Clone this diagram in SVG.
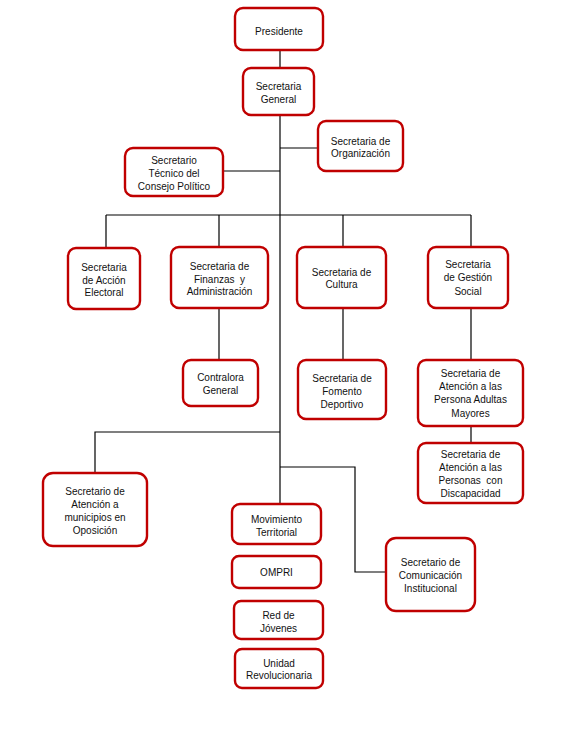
<svg xmlns="http://www.w3.org/2000/svg" width="574" height="756" viewBox="0 0 574 756">
<style>
.bx{fill:#fff;stroke:#C00000;stroke-width:2.4}
.t{font-family:"Liberation Sans",Arial,sans-serif;font-size:10px;fill:#111;text-anchor:middle}
.ln{fill:none;stroke:#000;stroke-width:1.2}
</style>
<rect width="574" height="756" fill="#fff"/>
<g id="connectors">
<path class="ln" d="M280,50V68"/>
<path class="ln" d="M280,115V504"/>
<path class="ln" d="M280,148H318"/>
<path class="ln" d="M223,171H280"/>
<path class="ln" d="M106,215H471"/>
<path class="ln" d="M106,215V248M219,215V247M343,215V247M471,215V247"/>
<path class="ln" d="M219,308V360"/>
<path class="ln" d="M343,308V360"/>
<path class="ln" d="M471,308V360"/>
<path class="ln" d="M471,426V443"/>
<path class="ln" d="M95,473V432H280"/>
<path class="ln" d="M280,467H355V572H386"/>
</g>
<g id="presidente"><rect class="bx" x="235" y="8" width="88" height="42" rx="8"/><text class="t" x="279" y="34.5">Presidente</text></g>
<g id="sec-general"><rect class="bx" x="243" y="68" width="71" height="47" rx="8"/><text class="t" x="278.5" y="89.5">Secretaria</text><text class="t" x="278.5" y="102.5">General</text></g>
<g id="sec-organizacion"><rect class="bx" x="318" y="121" width="85" height="50" rx="8"/><text class="t" x="360.5" y="144.5">Secretaria de</text><text class="t" x="360.5" y="157">Organización</text></g>
<g id="sec-tecnico"><rect class="bx" x="125" y="148" width="98" height="48" rx="8"/><text class="t" x="174" y="163.5">Secretario</text><text class="t" x="174" y="176.5">Técnico del</text><text class="t" x="174" y="189.5">Consejo Político</text></g>
<g id="sec-accion"><rect class="bx" x="68" y="248" width="72" height="61" rx="8"/><text class="t" x="104" y="270.5">Secretaria</text><text class="t" x="104" y="283.5">de Acción</text><text class="t" x="104" y="296">Electoral</text></g>
<g id="sec-finanzas"><rect class="bx" x="171" y="247" width="97" height="61" rx="8"/><text class="t" x="219.5" y="269.5">Secretaria de</text><text class="t" x="219.5" y="282.5" xml:space="preserve">Finanzas  y</text><text class="t" x="219.5" y="295">Administración</text></g>
<g id="sec-cultura"><rect class="bx" x="297" y="247" width="89" height="61" rx="8"/><text class="t" x="341.5" y="275.5">Secretaria de</text><text class="t" x="341.5" y="288">Cultura</text></g>
<g id="sec-gestion"><rect class="bx" x="428" y="247" width="80" height="61" rx="8"/><text class="t" x="468" y="267.5">Secretaria</text><text class="t" x="468" y="281">de Gestión</text><text class="t" x="468" y="294.5">Social</text></g>
<g id="contralora"><rect class="bx" x="183" y="360" width="75" height="46" rx="8"/><text class="t" x="220.5" y="380.5">Contralora</text><text class="t" x="220.5" y="393.5">General</text></g>
<g id="sec-fomento"><rect class="bx" x="298" y="360" width="88" height="59" rx="8"/><text class="t" x="342" y="381.5">Secretaria de</text><text class="t" x="342" y="394.5">Fomento</text><text class="t" x="342" y="407.5">Deportivo</text></g>
<g id="sec-adultas"><rect class="bx" x="418" y="360" width="105" height="66" rx="8"/><text class="t" x="470.5" y="376.5">Secretaria de</text><text class="t" x="470.5" y="390">Atención a las</text><text class="t" x="470.5" y="403">Persona Adultas</text><text class="t" x="470.5" y="416.5">Mayores</text></g>
<g id="sec-discapacidad"><rect class="bx" x="418" y="443" width="105" height="60" rx="8"/><text class="t" x="470.5" y="457.5">Secretaria de</text><text class="t" x="470.5" y="470.5">Atención a las</text><text class="t" x="470.5" y="483.5" xml:space="preserve">Personas  con</text><text class="t" x="470.5" y="496.5">Discapacidad</text></g>
<g id="sec-oposicion"><rect class="bx" x="43" y="473" width="104" height="73" rx="10"/><text class="t" x="95" y="494.5">Secretario de</text><text class="t" x="95" y="507.5">Atención a</text><text class="t" x="95" y="521">municipios en</text><text class="t" x="95" y="533.5">Oposición</text></g>
<g id="movimiento"><rect class="bx" x="232" y="504" width="89" height="40" rx="8"/><text class="t" x="276.5" y="522.5">Movimiento</text><text class="t" x="276.5" y="535.5">Territorial</text></g>
<g id="ompri"><rect class="bx" x="232" y="556" width="89" height="32" rx="7"/><text class="t" x="276.5" y="575.5">OMPRI</text></g>
<g id="red-jovenes"><rect class="bx" x="234" y="601" width="89" height="38" rx="7"/><text class="t" x="278.5" y="618.5">Red de</text><text class="t" x="278.5" y="631.5">Jóvenes</text></g>
<g id="unidad"><rect class="bx" x="235" y="649" width="88" height="39" rx="7"/><text class="t" x="279" y="666.5">Unidad</text><text class="t" x="279" y="678.5">Revolucionaria</text></g>
<g id="sec-comunicacion"><rect class="bx" x="386" y="538" width="89" height="73" rx="10"/><text class="t" x="430.5" y="565.5">Secretario de</text><text class="t" x="430.5" y="578.5">Comunicación</text><text class="t" x="430.5" y="591.5">Institucional</text></g>
</svg>
